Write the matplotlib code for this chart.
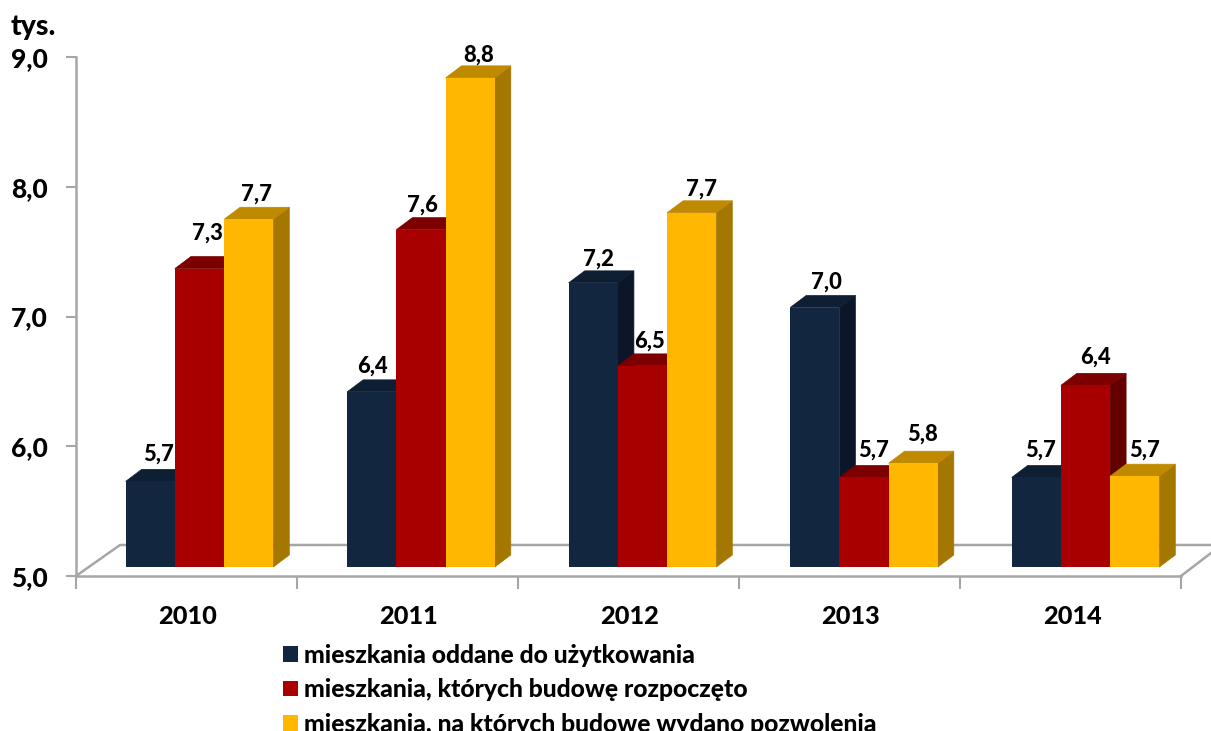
import matplotlib
matplotlib.use('Agg')
import matplotlib.pyplot as plt
from matplotlib.patches import Polygon, Patch
from matplotlib.transforms import ScaledTranslation

years = ['2010', '2011', '2012', '2013', '2014']
oddane = [5.66, 6.35, 7.19, 7.00, 5.69]
rozpoczete = [7.30, 7.60, 6.55, 5.69, 6.40]
pozwolenia = [7.68, 8.77, 7.73, 5.80, 5.70]
oddane_lab = ['5,7', '6,4', '7,2', '7,0', '5,7']
rozpoczete_lab = ['7,3', '7,6', '6,5', '5,7', '6,4']
pozwolenia_lab = ['7,7', '8,8', '7,7', '5,8', '5,7']
names = ['mieszkania oddane do użytkowania',
         'mieszkania, których budowę rozpoczęto',
         'mieszkania, na których budowę wydano pozwolenia']
yticks = [5, 6, 7, 8, 9]
ytick_labels = ['5,0', '6,0', '7,0', '8,0', '9,0']

# front, top, side
colors = [('#12263F', '#0E1E33', '#0B1729'),
          ('#A80000', '#7D0000', '#640000'),
          ('#FFB700', '#BF8A00', '#A37700')]

# label offsets in pixels from the bar top, one row per series
label_dx = [[8, 1, 5, 12, 4],
            [8, 1, 7, 10, 10],
            [8, 8, 10, 9, 10]]
label_dy = [[27, 26, 24, 25, 27],
            [35, 25, 25, 27, 28],
            [25, 23, 24, 29, 26]]

plt.rcParams['font.family'] = ['Lato', 'DejaVu Sans']
WEIGHT = 'black'
GREY = '#A6A6A6'
W, H = 1211, 731

fig = plt.figure(figsize=(W / 100, H / 100), dpi=100)
ax = fig.add_axes([76 / W, 1 - 576 / H, 1105 / W, 519 / H])
ax.set_xlim(-0.5, 4.5)
ax.set_ylim(5, 9)

px_x = 5 / 1105    # data units per pixel
px_y = 4 / 519
bar_w = 49.2 * px_x
dx, dy = 16 * px_x, 12 * px_y
step = 221.5 / 221

for s in ['top', 'right']:
    ax.spines[s].set_visible(False)
for s in ['left', 'bottom']:
    ax.spines[s].set_color(GREY)
    ax.spines[s].set_linewidth(1.8)

ax.set_yticks(yticks)
ax.set_yticklabels(ytick_labels, fontsize=19, fontweight=WEIGHT)
ax.set_xticks([i - 0.5 for i in range(6)], minor=True)
ax.set_xticks(range(5))
ax.set_xticklabels(years, fontsize=18.2, fontweight=WEIGHT)
ax.tick_params(axis='y', length=7, width=1.5, color=GREY, pad=13)
ax.tick_params(axis='x', which='major', length=0, pad=21)
ax.tick_params(axis='x', which='minor', length=9, width=1.5, color=GREY)
for t in ax.get_xticklabels():
    t.set_transform(t.get_transform() + ScaledTranslation(1.5 / 100, 0, fig.dpi_scale_trans))

# floor
fdx, fdy = 44 * px_x, 31 * px_y
ax.plot([-0.5, -0.5 + fdx, 4.5 + 30 * px_x], [5, 5 + fdy, 5 + fdy],
        color=GREY, lw=1.8, clip_on=False, zorder=1)
ax.plot([4.5, 4.5 + 30 * px_x], [5, 5 + 23 * px_y],
        color=GREY, lw=1.8, clip_on=False, zorder=1)

series = [oddane, rozpoczete, pozwolenia]
labels = [oddane_lab, rozpoczete_lab, pozwolenia_lab]
shift = ax.transData + ScaledTranslation(13 / 100, 9 / 100, fig.dpi_scale_trans)
z = 3
for i in range(len(years)):
    for j in range(3):
        v = series[j][i]
        c = colors[j]
        left = i * step + (j - 1.5) * bar_w
        right = left + bar_w
        ax.add_patch(Polygon([(right, 5), (right + dx, 5 + dy), (right + dx, v + dy), (right, v)],
                             closed=True, fc=c[2], ec=c[2], lw=0.5, transform=shift, zorder=z))
        ax.add_patch(Polygon([(left, v), (left + dx, v + dy), (right + dx, v + dy), (right, v)],
                             closed=True, fc=c[1], ec=c[1], lw=0.5, transform=shift, zorder=z))
        ax.bar(left, v - 5, bar_w, bottom=5, align='edge', color=c[0], linewidth=0,
               transform=shift, zorder=z + 1)
        ax.annotate(labels[j][i], (left + bar_w / 2, v), xycoords=shift,
                    xytext=(label_dx[j][i] * 0.72, label_dy[j][i] * 0.72), textcoords='offset points',
                    ha='center', va='center', fontsize=15.8, fontweight=WEIGHT,
                    color='black', zorder=50)
        z += 2

fig.text(11 / W, 1 - 27 / H, 'tys.', fontsize=20.5, fontweight=WEIGHT, va='center', ha='left')

handles = [Patch(fc=c[0], ec='none') for c in colors]
fig.legend(handles, names, loc='upper left', bbox_to_anchor=(273 / W, 1 - 634 / H),
           frameon=False, prop={'size': 17.8, 'weight': WEIGHT}, handlelength=0.6, handleheight=0.6,
           handletextpad=0.25, labelspacing=0.46, borderpad=0.4, borderaxespad=0)

fig.savefig('out.png', dpi=100)
